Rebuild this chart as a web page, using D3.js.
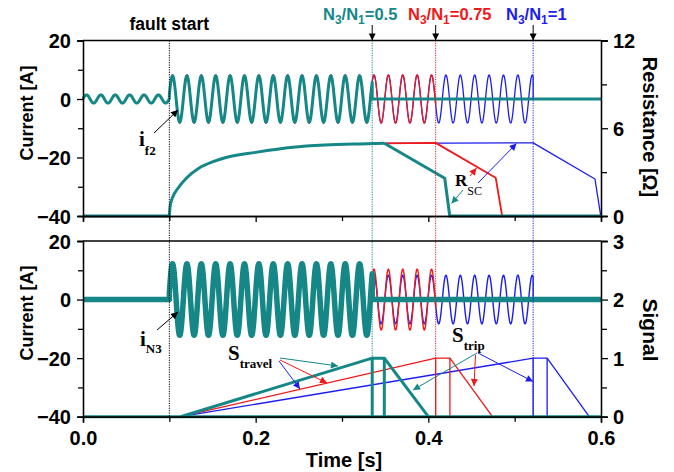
<!DOCTYPE html>
<html>
<head>
<meta charset="utf-8">
<script src="https://cdn.jsdelivr.net/npm/d3@7"></script>
<style>
  body { margin: 0; background: #fff; }
  svg { display: block; }
  .tick text { font-family: "Liberation Sans", Arial, sans-serif; font-weight: bold; font-size: 20px; fill: #000; }
  .domain, .tick line { stroke: #000; stroke-width: 1.3; }
</style>
</head>
<body>
<div id="chart_area"></div>
<script>
// ---- data ----
var faultTime = 0.1;
var tripTimes = [0.335, 0.4085, 0.5214];          // N3/N1 = 0.5, 0.75, 1
var ratioLabels = ["0.5", "0.75", "1"];
var freq = 60;                                      // Hz
var preFaultAmp = 1.4;                              // A, top panel before fault
var if2Amp = [7.9, 8.2, 8.2];                       // A, top panel after fault
var iN3Amp = [12.2, 10.4, 8.3];                     // A, bottom panel after fault

// resistance R_SC [ohm] : common rise, then each series falls after trip
var rRise = [[0.1, 0], [0.101, 0.7], [0.104, 1.3], [0.11, 1.9], [0.12, 2.6], [0.135, 3.3],
             [0.15, 3.7], [0.1656, 4.0], [0.2, 4.35], [0.243, 4.7], [0.28, 4.85],
             [0.32, 4.93], [0.349, 4.97]];
var rFallTeal = [[0.349, 4.97], [0.419, 2.58], [0.4248, 0], [0.6, 0]];
var rFallRed  = [[0.349, 4.97], [0.4085, 5.0], [0.478, 2.62], [0.4855, 0], [0.6, 0]];
var rFallBlue = [[0.349, 4.97], [0.5214, 5.0], [0.593, 2.53], [0.5997, 0], [0.6, 0]];

// signals S_travel / S_trip
var sTravelStart = 0.113;
var sHoldEnd = [0.349, 0.425, 0.5376];
var sDecayEnd = [0.4, 0.4743, 0.5864];

var leftTicks = [-40, -20, 0, 20];
var leftMinor = [-30, -10, 10];
var resTicks = [0, 6, 12];
var resMinor = [3, 9];
var sigTicks = [0, 1, 2, 3];
var sigMinor = [0.5, 1.5, 2.5];
var timeTicks = [0, 0.2, 0.4, 0.6];
var timeMinor = [0.1, 0.3, 0.5];

// ---- styles ----
var colors = ["#158787", "#f01818", "#1c1cf0"];
var W = 674, H = 472;
var xL = 83, xR = 601;
var top1 = 40.5, bot1 = 216, top2 = 241, bot2 = 416.7;

var svg = d3.select("#chart_area").append("svg").attr("width", W).attr("height", H);

var x = d3.scaleLinear().domain([0, 0.6]).range([xL, xR]);
var yI1 = d3.scaleLinear().domain([-40, 20]).range([bot1, top1]);
var yR1 = d3.scaleLinear().domain([0, 12]).range([bot1, top1]);
var yI2 = d3.scaleLinear().domain([-40, 20]).range([bot2, top2]);
var yS2 = d3.scaleLinear().domain([0, 3]).range([bot2, top2]);

// markers
var defs = svg.append("defs");
function marker(id, col) {
    defs.append("marker").attr("id", id)
        .attr("viewBox", "0 0 10 10").attr("refX", 10).attr("refY", 5)
        .attr("markerUnits", "userSpaceOnUse")
        .attr("markerWidth", 9).attr("markerHeight", 7).attr("orient", "auto")
        .append("path").attr("d", "M0,0 L10,5 L0,10 z").attr("fill", col);
}
marker("ak", "#000");
colors.forEach(function (c, i) { marker("a" + i, c); });

// waveform samples
function wave(amp, t0, t1, phase) {
    var pts = [];
    for (var t = t0; t <= t1 + 1e-9; t += 0.0002) {
        pts.push([t, amp * Math.cos(2 * Math.PI * freq * (t - phase))]);
    }
    pts.push([t1, amp * Math.cos(2 * Math.PI * freq * (t1 - phase))]);
    return pts;
}
function currentSeries(preAmp, amp, trip) {
    var pts = [];
    if (preAmp > 0) pts = pts.concat(wave(preAmp, 0, faultTime, 0.004));
    else pts.push([0, 0], [faultTime, 0]);
    pts = pts.concat(wave(amp, faultTime, trip, 0.1037));
    pts.push([trip, 0], [0.6, 0]);
    return pts;
}

function drawLine(yScale, data, col, w, curve) {
    svg.append("path").datum(data)
        .attr("fill", "none").attr("stroke", col).attr("stroke-width", w)
        .attr("stroke-linejoin", "round")
        .attr("d", d3.line().x(function (d) { return x(d[0]); })
            .y(function (d) { return yScale(d[1]); }).curve(curve || d3.curveLinear));
}

// ---- top panel ----
[2, 1, 0].forEach(function (i) {
    drawLine(yI1, currentSeries(preFaultAmp, if2Amp[i], tripTimes[i]), colors[i], i == 0 ? 3 : 1.3);
});
drawLine(yR1, rFallBlue, colors[2], 1.3);
drawLine(yR1, rFallRed, colors[1], 1.8);
drawLine(yR1, rRise, colors[0], 3, d3.curveMonotoneX);
drawLine(yR1, rFallTeal, colors[0], 3);
drawLine(yR1, [[0, 0], [0.1, 0]], colors[0], 3);

// ---- bottom panel ----
[2, 1, 0].forEach(function (i) {
    drawLine(yI2, currentSeries(0, iN3Amp[i], tripTimes[i]), colors[i], i == 0 ? 5.5 : 1.4);
});
[2, 1, 0].forEach(function (i) {
    var w = i == 0 ? 3 : 1.3;
    var tr = tripTimes[i];
    drawLine(yS2, [[sTravelStart, 0], [tr, 1], [tr, 0]], colors[i], w);
    drawLine(yS2, [[tr, 1], [sHoldEnd[i], 1], [sHoldEnd[i], 0]], colors[i], w);
    drawLine(yS2, [[sHoldEnd[i], 1], [sDecayEnd[i], 0]], colors[i], w);
});
drawLine(yS2, [[0, 0], [0.6, 0]], colors[0], 3);

// ---- dotted markers ----
svg.append("line").attr("x1", x(faultTime)).attr("x2", x(faultTime))
    .attr("y1", top1).attr("y2", bot2)
    .attr("stroke", "#000").attr("stroke-width", 1).attr("stroke-dasharray", "1.2,1.2");
tripTimes.forEach(function (t, i) {
    svg.append("line").attr("x1", x(t)).attr("x2", x(t))
        .attr("y1", top1).attr("y2", bot2)
        .attr("stroke", colors[i]).attr("stroke-width", 1).attr("stroke-dasharray", "1.2,1.2");
    svg.append("line").attr("x1", x(t)).attr("x2", x(t))
        .attr("y1", 25).attr("y2", top1)
        .attr("stroke", "#000").attr("stroke-width", 1).attr("marker-end", "url(#ak)");
});

// ---- axes ----
function axisGroup(axis, tx, ty) {
    return svg.append("g").attr("transform", "translate(" + tx + "," + ty + ")").call(axis);
}
function panelAxes(yL, yRt, rTicks, rMinor, yTop, yBot, withLabels) {
    axisGroup(d3.axisLeft(yL).tickValues(leftTicks).tickSize(6).tickPadding(6), xL, 0);
    axisGroup(d3.axisLeft(yL).tickValues(leftMinor).tickSize(5).tickFormat(""), xL, 0);
    axisGroup(d3.axisRight(yRt).tickValues(rTicks).tickSize(7).tickPadding(5).tickFormat(d3.format("d")), xR, 0);
    axisGroup(d3.axisRight(yRt).tickValues(rMinor).tickSize(6).tickFormat(""), xR, 0);
    var b = d3.axisBottom(x).tickValues(timeTicks).tickSize(6).tickPadding(8);
    if (withLabels) b.tickFormat(d3.format(".1f")); else b.tickFormat("");
    var g = axisGroup(b, 0, yBot);
    axisGroup(d3.axisBottom(x).tickValues(timeMinor).tickSize(5).tickFormat(""), 0, yBot);
    svg.append("line").attr("x1", xL).attr("x2", xR).attr("y1", yTop).attr("y2", yTop)
        .attr("stroke", "#000").attr("stroke-width", 1.3);
    return g;
}
panelAxes(yI1, yR1, resTicks, resMinor, top1, bot1, false);
var xAxisG = panelAxes(yI2, yS2, sigTicks, sigMinor, top2, bot2, true);
svg.selectAll(".tick text").attr("dy", "0.35em");
xAxisG.selectAll(".tick text").attr("dy", "0.71em");

// ---- titles ----
var sans = "'Liberation Sans', Arial, sans-serif";
var serif = "'Liberation Serif', 'Times New Roman', serif";
function title(txt, tx, ty, rot, size) {
    svg.append("text").attr("transform", "translate(" + tx + "," + ty + ") rotate(" + rot + ")")
        .attr("text-anchor", "middle").attr("font-family", sans).attr("font-weight", "bold")
        .attr("font-size", size).text(txt);
}
title("Current [A]", 33, 113, -90, 18);
title("Current [A]", 33, 313, -90, 18);
title("Resistance [\u03a9]", 643, 127, 90, 20);
title("Signal", 643, 330, 90, 21);
title("Time [s]", 344, 467, 0, 20);

svg.append("text").attr("x", x(faultTime)).attr("y", 30).attr("text-anchor", "middle")
    .attr("font-family", sans).attr("font-weight", "bold").attr("font-size", 17.5).text("fault start");

var ratioX = [323, 408, 506];
ratioLabels.forEach(function (lab, i) {
    var t = svg.append("text").attr("x", ratioX[i]).attr("y", 19.5)
        .attr("font-family", sans).attr("font-weight", "bold").attr("font-size", 16.5)
        .attr("fill", colors[i]);
    t.append("tspan").text("N");
    t.append("tspan").attr("font-size", 12).attr("dy", 4).text("3");
    t.append("tspan").attr("dy", -4).text("/N");
    t.append("tspan").attr("font-size", 12).attr("dy", 4).text("1");
    t.append("tspan").attr("dy", -4).text("=" + lab);
});

// ---- annotations ----
function annot(main, sub, tx, ty, size, subSize, subDy) {
    var t = svg.append("text").attr("x", tx).attr("y", ty)
        .attr("font-family", serif).attr("font-weight", "bold").attr("font-size", size);
    t.append("tspan").text(main);
    t.append("tspan").attr("font-size", subSize).attr("dy", subDy).text(sub);
}
function arrow(x1, y1, x2, y2, id, col) {
    svg.append("line").attr("x1", x1).attr("y1", y1).attr("x2", x2).attr("y2", y2)
        .attr("stroke", col).attr("stroke-width", 1).attr("marker-end", "url(#" + id + ")");
}
annot("i", "f2", 139, 146, 21, 13, 9);
arrow(154, 133, 178, 110, "ak", "#000");
annot("i", "N3", 140, 346, 21, 13, 7);
arrow(157, 330, 178, 312, "ak", "#000");

svg.append("text").attr("x", 455).attr("y", 186).attr("font-family", serif)
    .attr("font-size", 17).attr("font-weight", "bold")
    .call(function (t) {
        t.append("tspan").text("R");
        t.append("tspan").attr("font-size", 12).attr("dy", 9).attr("font-weight", "normal").text("SC");
    });
arrow(470, 176, 476.5, 168, "a1", colors[1]);
arrow(463, 190, 451.5, 203.5, "a0", colors[0]);
arrow(478, 183, 516.5, 143.5, "a2", colors[2]);

annot("S", "travel", 228, 360, 21, 13, 8);
arrow(280, 358, 338, 366, "a0", colors[0]);
arrow(280, 360, 327, 383, "a1", colors[1]);
arrow(279, 361, 300, 389, "a2", colors[2]);

annot("S", "trip", 452, 341.5, 21, 13, 8);
arrow(477, 353, 413, 390, "a0", colors[0]);
arrow(475.5, 355, 474, 386, "a1", colors[1]);
arrow(478, 353, 533, 381.5, "a2", colors[2]);
</script>
</body>
</html>
